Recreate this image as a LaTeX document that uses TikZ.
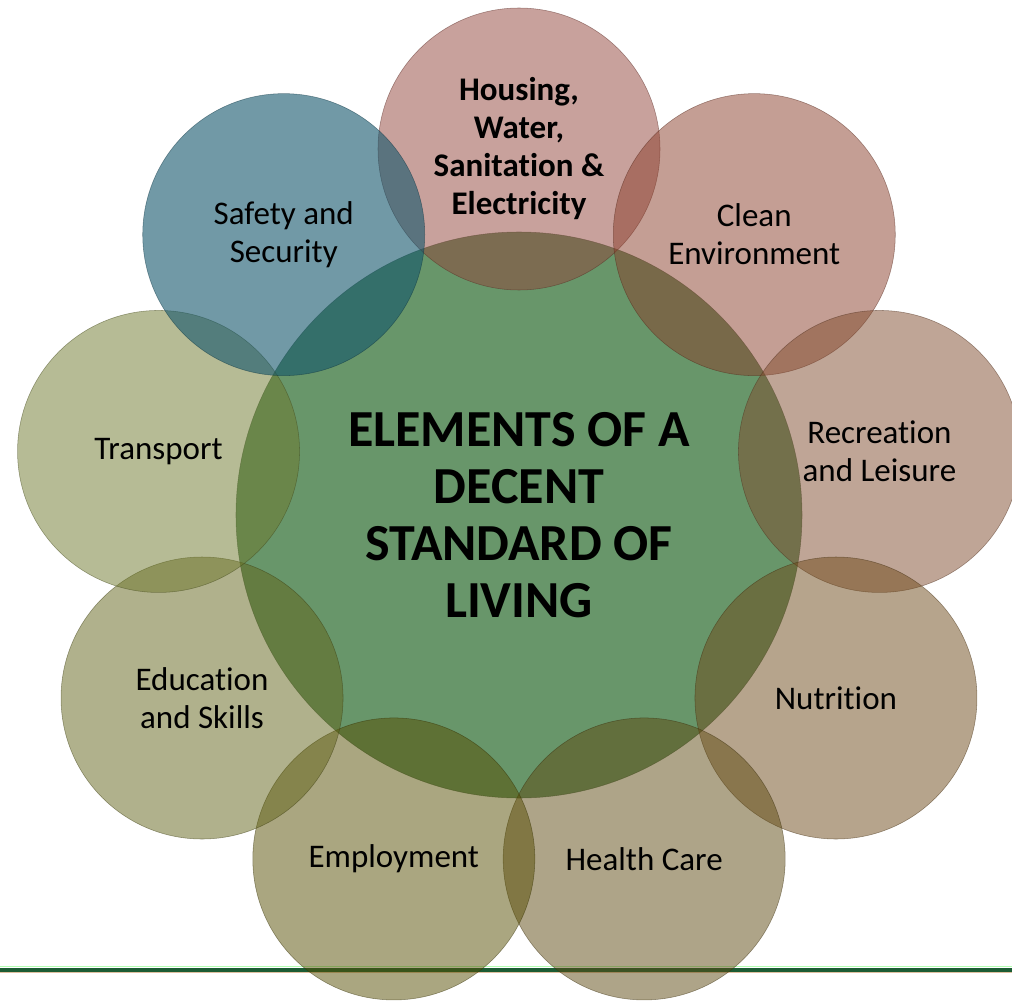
\documentclass[tikz,border=0pt]{standalone}
\usepackage{fontspec}
\setmainfont{Carlito}[Ligatures=NoCommon]
\usetikzlibrary{positioning}

\definecolor{hubgreen}{RGB}{104,150,106}
\definecolor{rulegreen}{RGB}{28,92,52}
% strong tints, laid on at half opacity
\definecolor{housingc}{RGB}{145,67,57}
\definecolor{cleanc}{RGB}{137,61,41}
\definecolor{recreationc}{RGB}{127,75,45}
\definecolor{nutritionc}{RGB}{109,73,25}
\definecolor{healthc}{RGB}{93,73,17}
\definecolor{employmentc}{RGB}{85,77,1}
\definecolor{educationc}{RGB}{97,99,25}
\definecolor{transportc}{RGB}{109,119,43}
\definecolor{safetyc}{RGB}{18,85,107}

\begin{document}
\begin{tikzpicture}[x=0.75pt,y=0.75pt,
    hub/.style={circle,fill=hubgreen,draw=hubgreen!60!black,draw opacity=0.6,
                minimum size=424.5pt,inner sep=0pt},
    bubble/.style={circle,fill=#1,fill opacity=0.5,draw=#1!60!black,draw opacity=0.5,
                   minimum size=211.5pt,inner sep=0pt},
    lbl/.style={font=\fontsize{24.75}{28.5}\selectfont,align=center,text=black},
    title/.style={font=\fontsize{39}{42.75}\selectfont\bfseries,align=center,text=black}]

  \useasboundingbox (-519,-492) rectangle (493,515);

  % green rule across the bottom
  \coordinate (ruleL) at (-519,-455);
  \coordinate (ruleR) at (493,-455);
  \draw[line width=1pt,green!30!white] ([yshift=2.4pt]ruleL) -- ([yshift=2.4pt]ruleR);
  \draw[line width=0.8pt,brown!50!white] ([yshift=-2.2pt]ruleL) -- ([yshift=-2.2pt]ruleR);
  \draw[line width=3pt,rulegreen] (ruleL) -- (ruleR);

  % the hub and the nine elements around it
  \node[hub] (hub) at (0,0) {};
  \foreach \ang/\name/\col in {90/housing/housingc,50/clean/cleanc,10/recreation/recreationc,
      -30/nutrition/nutritionc,-70/health/healthc,-110/employment/employmentc,
      -150/education/educationc,170/transport/transportc}
    \node[bubble=\col] (\name) at (\ang:366) {};
  \node[bubble=safetyc,fill opacity=0.6] (safety) at (130:366) {};

  % labels
  \node[title] (hub-txt) at (hub) {ELEMENTS OF A\\DECENT\\STANDARD OF\\LIVING};
  \node[lbl,font=\fontsize{24.75}{28.5}\selectfont\bfseries] (housing-txt) at (housing)
    {Housing,\\Water,\\Sanitation \&\\Electricity};
  \node[lbl] (clean-txt) at (clean) {Clean\\Environment};
  \node[lbl] (recreation-txt) at (recreation) {Recreation\\and Leisure};
  \node[lbl] (nutrition-txt) at (nutrition) {Nutrition};
  \node[lbl] (health-txt) at (health) {Health Care};
  \node[lbl] (employment-txt) at (employment) {Employment};
  \node[lbl] (education-txt) at (education) {Education\\and Skills};
  \node[lbl] (transport-txt) at (transport) {Transport};
  \node[lbl] (safety-txt) at (safety) {Safety and\\Security};
\end{tikzpicture}
\end{document}
